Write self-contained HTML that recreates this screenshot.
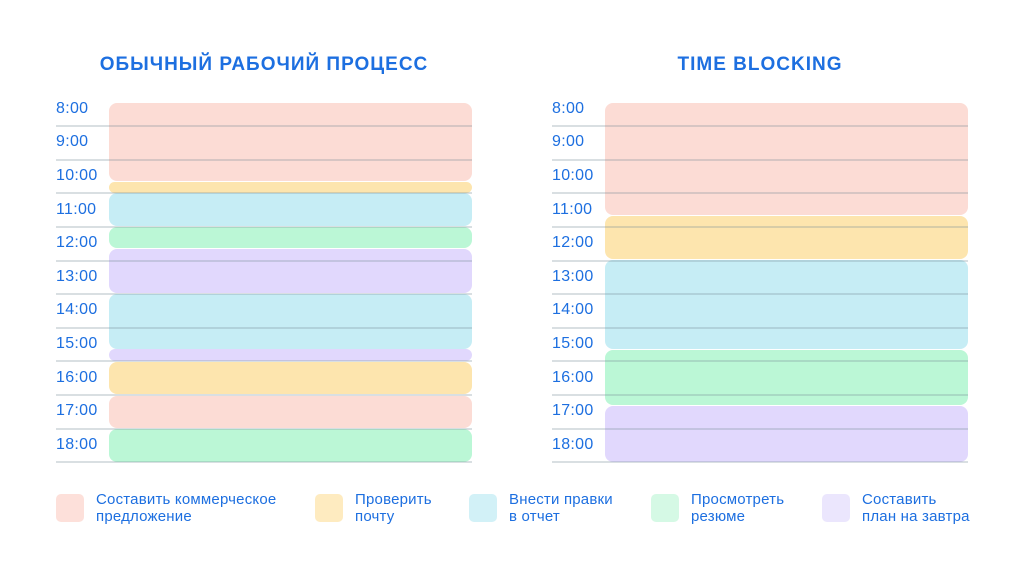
<!DOCTYPE html><html><head><meta charset="utf-8"><style>
body{margin:0;width:1024px;height:576px;background:#fff;position:relative;overflow:hidden;font-family:"Liberation Sans","DejaVu Sans",sans-serif;color:#1d6fe0}
div{position:absolute}
.t{font-weight:bold;font-size:19px;letter-spacing:1px;top:54px;text-align:center;width:440px}
.l{font-size:16px;line-height:18px;left:56px;letter-spacing:0.3px}
.r{font-size:16px;line-height:18px;left:552px;letter-spacing:0.3px}
.b{border-radius:8px}
.ln{height:2px;background:rgba(120,140,150,0.28)}
.k{width:28px;height:28px;border-radius:5px;top:494px}
.x{font-size:15px;line-height:17px;top:491px;letter-spacing:0.2px}
.p{background:#fcdcd5}.y{background:#fde5ae}.c{background:#c6edf5}.g{background:#bbf7d6}.v{background:#e1d8fd}
</style></head><body>
<div class="t" style="left:44px">ОБЫЧНЫЙ РАБОЧИЙ ПРОЦЕСС</div>
<div class="t" style="left:540px">TIME BLOCKING</div>

<div class="b p" style="left:109px;width:363px;top:103px;height:78px"></div>
<div class="b y" style="left:109px;width:363px;top:182px;height:11px"></div>
<div class="b c" style="left:109px;width:363px;top:193px;height:33px"></div>
<div class="b g" style="left:109px;width:363px;top:227px;height:21px"></div>
<div class="b v" style="left:109px;width:363px;top:249px;height:44px"></div>
<div class="b c" style="left:109px;width:363px;top:294px;height:55px"></div>
<div class="b v" style="left:109px;width:363px;top:349px;height:12px"></div>
<div class="b y" style="left:109px;width:363px;top:362px;height:32px"></div>
<div class="b p" style="left:109px;width:363px;top:396px;height:32px"></div>
<div class="b g" style="left:109px;width:363px;top:429px;height:33px"></div>

<div class="b p" style="left:605px;width:363px;top:103px;height:112px"></div>
<div class="b y" style="left:605px;width:363px;top:216px;height:43px"></div>
<div class="b c" style="left:605px;width:363px;top:260px;height:89px"></div>
<div class="b g" style="left:605px;width:363px;top:350px;height:55px"></div>
<div class="b v" style="left:605px;width:363px;top:406px;height:56px"></div>

<div class="ln" style="left:56px;width:416px;top:125px"></div>
<div class="ln" style="left:56px;width:416px;top:159px"></div>
<div class="ln" style="left:56px;width:416px;top:192px"></div>
<div class="ln" style="left:56px;width:416px;top:226px"></div>
<div class="ln" style="left:56px;width:416px;top:260px"></div>
<div class="ln" style="left:56px;width:416px;top:293px"></div>
<div class="ln" style="left:56px;width:416px;top:327px"></div>
<div class="ln" style="left:56px;width:416px;top:360px"></div>
<div class="ln" style="left:56px;width:416px;top:394px"></div>
<div class="ln" style="left:56px;width:416px;top:428px"></div>
<div class="ln" style="left:56px;width:416px;top:461px"></div>
<div class="ln" style="left:552px;width:416px;top:125px"></div>
<div class="ln" style="left:552px;width:416px;top:159px"></div>
<div class="ln" style="left:552px;width:416px;top:192px"></div>
<div class="ln" style="left:552px;width:416px;top:226px"></div>
<div class="ln" style="left:552px;width:416px;top:260px"></div>
<div class="ln" style="left:552px;width:416px;top:293px"></div>
<div class="ln" style="left:552px;width:416px;top:327px"></div>
<div class="ln" style="left:552px;width:416px;top:360px"></div>
<div class="ln" style="left:552px;width:416px;top:394px"></div>
<div class="ln" style="left:552px;width:416px;top:428px"></div>
<div class="ln" style="left:552px;width:416px;top:461px"></div>

<div class="l" style="top:100px">8:00</div><div class="l" style="top:133px">9:00</div><div class="l" style="top:167px">10:00</div><div class="l" style="top:201px">11:00</div><div class="l" style="top:234px">12:00</div><div class="l" style="top:268px">13:00</div><div class="l" style="top:301px">14:00</div><div class="l" style="top:335px">15:00</div><div class="l" style="top:369px">16:00</div><div class="l" style="top:402px">17:00</div><div class="l" style="top:436px">18:00</div>
<div class="r" style="top:100px">8:00</div><div class="r" style="top:133px">9:00</div><div class="r" style="top:167px">10:00</div><div class="r" style="top:201px">11:00</div><div class="r" style="top:234px">12:00</div><div class="r" style="top:268px">13:00</div><div class="r" style="top:301px">14:00</div><div class="r" style="top:335px">15:00</div><div class="r" style="top:369px">16:00</div><div class="r" style="top:402px">17:00</div><div class="r" style="top:436px">18:00</div>

<div class="k" style="left:56px;background:#fde0da"></div><div class="x" style="left:96px">Составить коммерческое<br>предложение</div>
<div class="k" style="left:315px;background:#feebc0"></div><div class="x" style="left:355px">Проверить<br>почту</div>
<div class="k" style="left:469px;background:#d2f1f7"></div><div class="x" style="left:509px">Внести правки<br>в отчет</div>
<div class="k" style="left:651px;background:#d5f9e5"></div><div class="x" style="left:691px">Просмотреть<br>резюме</div>
<div class="k" style="left:822px;background:#ebe6fd"></div><div class="x" style="left:862px">Составить<br>план на завтра</div>
</body></html>
